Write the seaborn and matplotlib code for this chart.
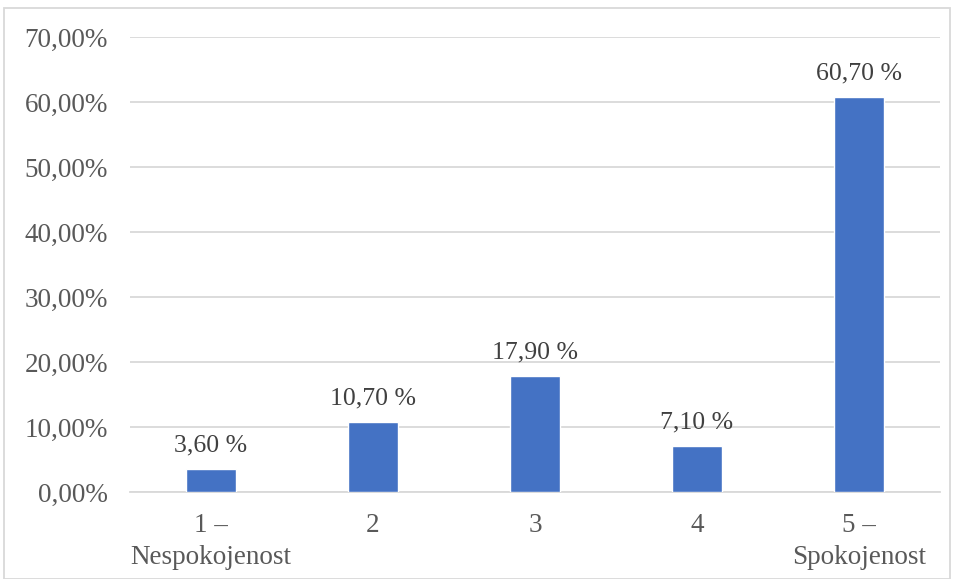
import matplotlib
matplotlib.use("Agg")
import matplotlib.pyplot as plt
import seaborn as sns
import pandas as pd
from matplotlib.patches import Rectangle

# values (percent)
categories = ["1 –\nNespokojenost", "2", "3", "4", "5 –\nSpokojenost"]
values = [3.6, 10.7, 17.9, 7.1, 60.7]
labels = ["3,60 %", "10,70 %", "17,90 %", "7,10 %", "60,70 %"]
yticks = [0, 10, 20, 30, 40, 50, 60, 70]

df = pd.DataFrame({"cat": categories, "val": values})

sns.set_style("white")
plt.rcParams["font.family"] = ["Liberation Serif", "DejaVu Serif"]

fig = plt.figure(figsize=(9.57, 5.79), dpi=100)
ax = fig.add_axes([130 / 957, 87 / 579, 810 / 957, 455 / 579])

sns.barplot(data=df, x="cat", y="val", color="#4472C4", saturation=1,
            width=0.31, ax=ax, zorder=3)

ax.set_ylim(0, 70)
ax.set_yticks(yticks)
ax.set_yticklabels([f"{v:.2f}%".replace(".", ",") for v in yticks])
ax.yaxis.grid(True, color="#d9d9d9", linewidth=1.3, zorder=0)
ax.set_axisbelow(True)
for s in ["top", "right", "left"]:
    ax.spines[s].set_visible(False)
ax.spines["bottom"].set_color("#d9d9d9")
ax.spines["bottom"].set_linewidth(1.3)
ax.tick_params(axis="both", length=0, labelsize=19.5, colors="#595959")
ax.tick_params(axis="y", pad=16)
ax.tick_params(axis="x", pad=15)
for lbl in ax.get_xticklabels():
    lbl.set_linespacing(1.4)
ax.set_xlabel("")
ax.set_ylabel("")

for i, (v, t) in enumerate(zip(values, labels)):
    ax.annotate(t, (i, v), xytext=(0, 9), textcoords="offset points",
                ha="center", va="bottom", fontsize=18.5, color="#404040")

# chart frame
fig.patches.append(Rectangle((4 / 957, 0), 946 / 957, 571 / 579,
                             transform=fig.transFigure, fill=False,
                             edgecolor="#d9d9d9", linewidth=1.3))

fig.savefig("out.png", dpi=100)
